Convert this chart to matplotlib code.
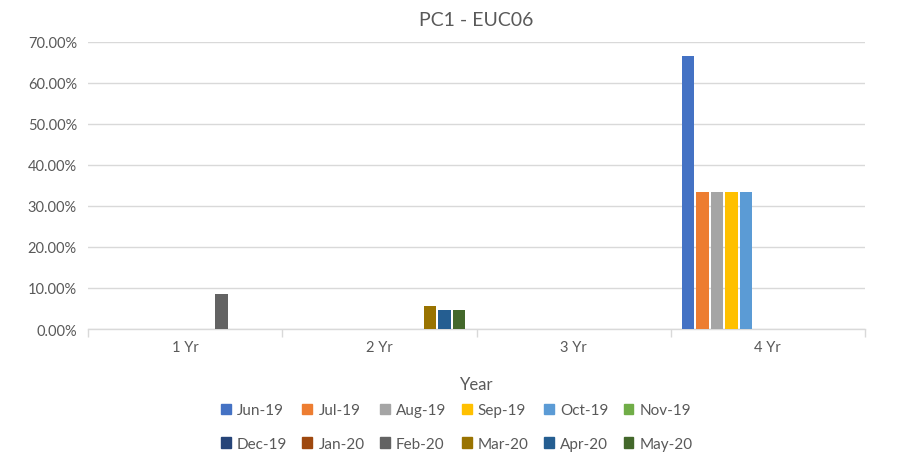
import numpy as np
import matplotlib
matplotlib.use("Agg")
import matplotlib.pyplot as plt
from matplotlib.patches import Patch

plt.rcParams['font.family'] = ['Lato', 'DejaVu Sans']

categories = ["1 Yr", "2 Yr", "3 Yr", "4 Yr"]
months = ["Jun-19", "Jul-19", "Aug-19", "Sep-19", "Oct-19", "Nov-19",
          "Dec-19", "Jan-20", "Feb-20", "Mar-20", "Apr-20", "May-20"]
colors = ["#4472C4", "#ED7D31", "#A5A5A5", "#FFC000", "#5B9BD5", "#70AD47",
          "#264478", "#9E480E", "#636363", "#997300", "#255E91", "#43682B"]
# values per month for 1 Yr, 2 Yr, 3 Yr, 4 Yr
values = {
    "Jun-19": [0, 0, 0, 0.6667],
    "Jul-19": [0, 0, 0, 0.3333],
    "Aug-19": [0, 0, 0, 0.3333],
    "Sep-19": [0, 0, 0, 0.3333],
    "Oct-19": [0, 0, 0, 0.3333],
    "Nov-19": [0, 0, 0, 0],
    "Dec-19": [0, 0, 0, 0],
    "Jan-20": [0, 0, 0, 0],
    "Feb-20": [0.085, 0, 0, 0],
    "Mar-20": [0, 0.056, 0, 0],
    "Apr-20": [0, 0.046, 0, 0],
    "May-20": [0, 0.046, 0, 0],
}

fig = plt.figure(figsize=(9.08, 4.56), dpi=100)
ax = fig.add_axes([88/908, 1-330/456, (865-88)/908, (330-43)/456])

x = np.arange(len(categories))
step = 0.0747
width = 0.064
handles = []
for i, m in enumerate(months):
    ax.bar(x + (i - 5.5) * step, values[m], width, color=colors[i], zorder=3)
    handles.append(Patch(color=colors[i], label=m))

ax.set_xlim(-0.5, 3.5)
ax.set_ylim(0, 0.7)
ax.set_yticks(np.arange(0, 0.71, 0.1))
ax.set_yticklabels(["%.2f%%" % (v * 100) for v in np.arange(0, 0.71, 0.1)],
                   color="#595959", fontsize=10.5)
ax.set_xticks(x)
ax.set_xticklabels(categories, color="#595959", fontsize=10.5)
ax.tick_params(axis='both', length=0, pad=8)
ax.set_xticks(np.arange(-0.5, 3.6, 1), minor=True)
ax.tick_params(axis='x', which='minor', length=6, color="#d9d9d9", width=1)
ax.grid(axis='y', color="#d9d9d9", linewidth=1, zorder=0)
for s in ["top", "right", "left"]:
    ax.spines[s].set_visible(False)
ax.spines["bottom"].set_color("#d9d9d9")
ax.spines["bottom"].set_linewidth(1)

ax.set_title("PC1 - EUC06", fontsize=14, color="#595959", pad=12)
ax.set_xlabel("Year", fontsize=12, color="#595959", labelpad=16)

# legend filled column-wise, so interleave the two rows
order = []
for c in range(6):
    order += [handles[c], handles[c + 6]]
fig.legend(handles=order, ncol=6, loc="center", bbox_to_anchor=(0.503, 1-428/456),
           frameon=False, fontsize=11, handlelength=0.65, handleheight=0.65,
           handletextpad=0.4, columnspacing=1.0, labelcolor="#595959",
           labelspacing=1.3)

fig.savefig("out.png", dpi=100)
